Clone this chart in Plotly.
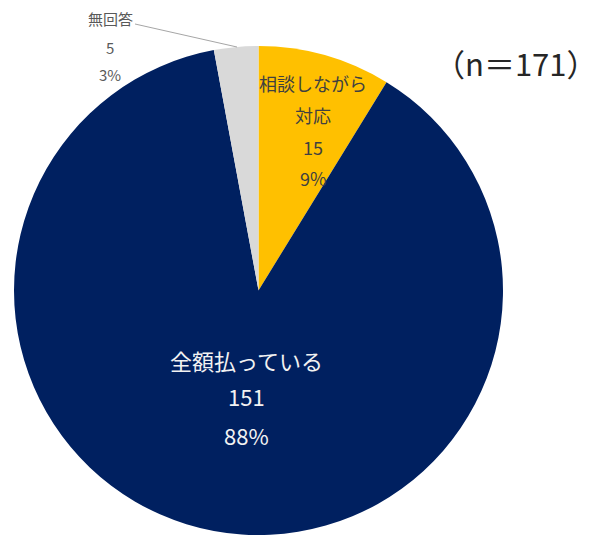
import plotly.graph_objects as go

# Survey responses (n = 171)
labels = ["相談しながら対応", "全額払っている", "無回答"]
label_lines = [["相談しながら", "対応"], ["全額払っている"], ["無回答"]]
values = [15, 151, 5]
colors = ["#FFC000", "#002060", "#D9D9D9"]

W, H = 605, 538
total = sum(values)
pcts = [round(v / total * 100) for v in values]


def px(x):
    return x / W


def py(y):
    return 1 - y / H


fig = go.Figure(
    go.Pie(
        labels=labels,
        values=values,
        sort=False,
        direction="clockwise",
        rotation=0,
        marker=dict(colors=colors, line=dict(width=0)),
        textinfo="none",
        hoverinfo="label+value+percent",
        domain=dict(x=[px(14), px(503)], y=[py(535), py(46)]),
    )
)

font_family = "Noto Sans CJK JP"

# Label blocks: (slice index, centre x, line y positions, font size, colour)
blocks = [
    (0, 313, [83, 115, 147, 178], 18, "#404040"),
    (1, 246, [360, 396, 435], 22, "#F2F2F2"),
    (2, 110, [19, 47, 74], 15, "#595959"),
]

annotations = []
for idx, cx, ys, size, col in blocks:
    lines = label_lines[idx] + [str(values[idx]), f"{pcts[idx]}%"]
    for text, y in zip(lines, ys):
        annotations.append(
            dict(
                x=px(cx), y=py(y), xref="paper", yref="paper",
                text=text, showarrow=False,
                xanchor="center", yanchor="middle",
                font=dict(family=font_family, size=size, color=col),
            )
        )

annotations.append(
    dict(
        x=px(600), y=py(63), xref="paper", yref="paper",
        text="（n＝171）", showarrow=False,
        xanchor="right", yanchor="middle",
        font=dict(family=font_family, size=31, color="#262626"),
    )
)

fig.update_layout(
    width=W, height=H,
    margin=dict(l=0, r=0, t=0, b=0),
    paper_bgcolor="white",
    plot_bgcolor="white",
    showlegend=False,
    annotations=annotations,
    shapes=[
        dict(
            type="line", xref="paper", yref="paper",
            x0=px(135), y0=py(24), x1=px(237), y1=py(47),
            line=dict(color="#A6A6A6", width=1),
        )
    ],
)

fig.write_html("out.html")
